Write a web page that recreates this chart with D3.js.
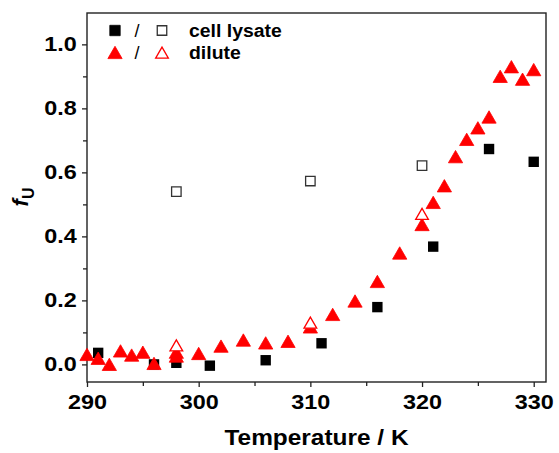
<!DOCTYPE html>
<html>
<head>
<meta charset="utf-8">
<script src="https://cdn.jsdelivr.net/npm/d3@7"></script>
<style>
  html, body { margin: 0; padding: 0; background: #fff; }
  svg { display: block; font-family: "Liberation Sans", Arial, sans-serif; }
</style>
</head>
<body>
<svg id="chart" width="559" height="453"></svg>
<script>
// Fraction unfolded (fU) versus temperature
const lysateTemps = [291, 296, 298, 301, 306, 311, 316, 321, 326, 330];
const lysateFU    = [0.036, 0.000, 0.005, -0.004, 0.013, 0.066, 0.179, 0.368, 0.673, 0.633];
const lysateOpenTemps = [298, 310, 320];
const lysateOpenFU    = [0.540, 0.573, 0.621];

const diluteTemps = [290, 291, 292, 293, 294, 295, 296, 298, 298, 300, 302, 304, 306, 308, 310,
                     312, 314, 316, 318, 320, 321, 322, 323, 324, 325, 326, 327, 328, 329, 330];
const diluteFU    = [0.031, 0.019, 0.000, 0.042, 0.029, 0.038, 0.003, 0.026, 0.038, 0.034, 0.057, 0.076, 0.067, 0.072, 0.117,
                     0.156, 0.198, 0.259, 0.348, 0.437, 0.506, 0.558, 0.649, 0.703, 0.739, 0.773, 0.900, 0.930, 0.891, 0.921];
const diluteOpenTemps = [298, 310, 320];
const diluteOpenFU    = [0.060, 0.131, 0.471];

const xTicks = [290, 300, 310, 320, 330];
const xMinorTicks = [295, 305, 315, 325];
const yTicks = [0.0, 0.2, 0.4, 0.6, 0.8, 1.0];
const yMinorTicks = [0.1, 0.3, 0.5, 0.7, 0.9];

const legendLabels = ["cell lysate", "dilute"];

const svg = d3.select("#chart");
const m = { left: 87, right: 546, top: 13, bottom: 382 };

const x = d3.scaleLinear().domain([290, 331.1]).range([m.left, m.right]);
const y = d3.scaleLinear().domain([-0.055, 1.098]).range([m.bottom, m.top]);

const axisColor = "#222";
const red = "#ff0000";
const wide = 1.2; // horizontal stretch of the bold tick labels

// frame
svg.append("rect")
  .attr("x", m.left).attr("y", m.top)
  .attr("width", m.right - m.left).attr("height", m.bottom - m.top)
  .attr("fill", "none").attr("stroke", axisColor).attr("stroke-width", 1.4);

// x axis
const xAxis = svg.append("g").attr("transform", `translate(0,${m.bottom})`)
  .call(d3.axisBottom(x).tickValues(xTicks).tickSize(5).tickPadding(8).tickFormat(d3.format("d")));
xAxis.select(".domain").remove();
xAxis.selectAll(".tick line").attr("stroke", axisColor).attr("stroke-width", 1.3);
xAxis.selectAll(".tick text").attr("font-size", 19.5).attr("font-weight", "bold").attr("fill", "#000")
  .attr("transform", `scale(${wide},1)`);
svg.append("g").attr("transform", `translate(0,${m.bottom})`)
  .call(d3.axisBottom(x).tickValues(xMinorTicks).tickSize(4).tickFormat(""))
  .call(g => g.select(".domain").remove())
  .selectAll(".tick line").attr("stroke", axisColor).attr("stroke-width", 1.3);

// y axis
const yAxis = svg.append("g").attr("transform", `translate(${m.left},0)`)
  .call(d3.axisLeft(y).tickValues(yTicks).tickSize(5).tickPadding(3.6).tickFormat(d3.format(".1f")));
yAxis.select(".domain").remove();
yAxis.selectAll(".tick line").attr("stroke", axisColor).attr("stroke-width", 1.3);
yAxis.selectAll(".tick text").attr("font-size", 19.5).attr("font-weight", "bold").attr("fill", "#000")
  .attr("transform", `scale(${wide},1)`);
svg.append("g").attr("transform", `translate(${m.left},0)`)
  .call(d3.axisLeft(y).tickValues(yMinorTicks).tickSize(4).tickFormat(""))
  .call(g => g.select(".domain").remove())
  .selectAll(".tick line").attr("stroke", axisColor).attr("stroke-width", 1.3);

// axis titles
svg.append("text")
  .attr("transform", `translate(${(m.left + m.right) / 2 + 0},445) scale(1.11,1)`)
  .attr("text-anchor", "middle").attr("font-size", 22).attr("font-weight", "bold")
  .text("Temperature / K");

const yt = svg.append("text")
  .attr("transform", "translate(28,197) rotate(-90)")
  .attr("text-anchor", "middle").attr("font-size", 22).attr("font-weight", "bold");
yt.append("tspan").attr("font-style", "italic").text("f");
yt.append("tspan").attr("font-size", 16).attr("dy", 6).text("U");

// marker symbols
const sq = d3.symbol().type(d3.symbolSquare).size(108);
const sqOpen = d3.symbol().type(d3.symbolSquare).size(90);
const tri = d3.symbol().type(d3.symbolTriangle).size(88);
const triOpen = d3.symbol().type(d3.symbolTriangle).size(70);

const zip = (a, b) => a.map((v, i) => [v, b[i]]);
const plot = svg.append("g");

// cell lysate, filled
plot.selectAll("path.lys").data(zip(lysateTemps, lysateFU)).join("path")
  .attr("class", "lys").attr("d", sq())
  .attr("transform", d => `translate(${x(d[0])},${y(d[1])})`)
  .attr("fill", "#000");

// cell lysate, open
plot.selectAll("path.lysOpen").data(zip(lysateOpenTemps, lysateOpenFU)).join("path")
  .attr("class", "lysOpen").attr("d", sqOpen())
  .attr("transform", d => `translate(${x(d[0])},${y(d[1])})`)
  .attr("fill", "#fff").attr("stroke", "#333").attr("stroke-width", 1.3);

// dilute, filled (triangle centred on its bounding box)
plot.selectAll("path.dil").data(zip(diluteTemps, diluteFU)).join("path")
  .attr("class", "dil").attr("d", tri())
  .attr("transform", d => `translate(${x(d[0])},${y(d[1]) + 2})`)
  .attr("fill", red).attr("stroke", red).attr("stroke-width", 0.8);

// dilute, open
plot.selectAll("path.dilOpen").data(zip(diluteOpenTemps, diluteOpenFU)).join("path")
  .attr("class", "dilOpen").attr("d", triOpen())
  .attr("transform", d => `translate(${x(d[0])},${y(d[1]) + 2})`)
  .attr("fill", "#fff").attr("stroke", red).attr("stroke-width", 1.3);

// legend
const lg = svg.append("g");
const rows = [
  { yPos: 30.5, filled: sq(), open: sqOpen(), fill: "#000", stroke: "#333", dy: 0 },
  { yPos: 52.5, filled: tri(), open: triOpen(), fill: red, stroke: red, dy: 2 }
];
rows.forEach((r, i) => {
  lg.append("path").attr("d", r.filled)
    .attr("transform", `translate(115,${r.yPos + r.dy})`)
    .attr("fill", r.fill).attr("stroke", r.fill).attr("stroke-width", 0.8);
  lg.append("text").attr("x", 137).attr("y", r.yPos + 6.5)
    .attr("text-anchor", "middle").attr("font-size", 18).text("/");
  lg.append("path").attr("d", r.open)
    .attr("transform", `translate(162,${r.yPos + r.dy})`)
    .attr("fill", "#fff").attr("stroke", r.stroke).attr("stroke-width", 1.3);
  lg.append("text").attr("transform", `translate(189,${r.yPos + 6}) scale(1.05,1)`)
    .attr("font-size", 18.5).attr("font-weight", "bold").text(legendLabels[i]);
});
</script>
</body>
</html>
